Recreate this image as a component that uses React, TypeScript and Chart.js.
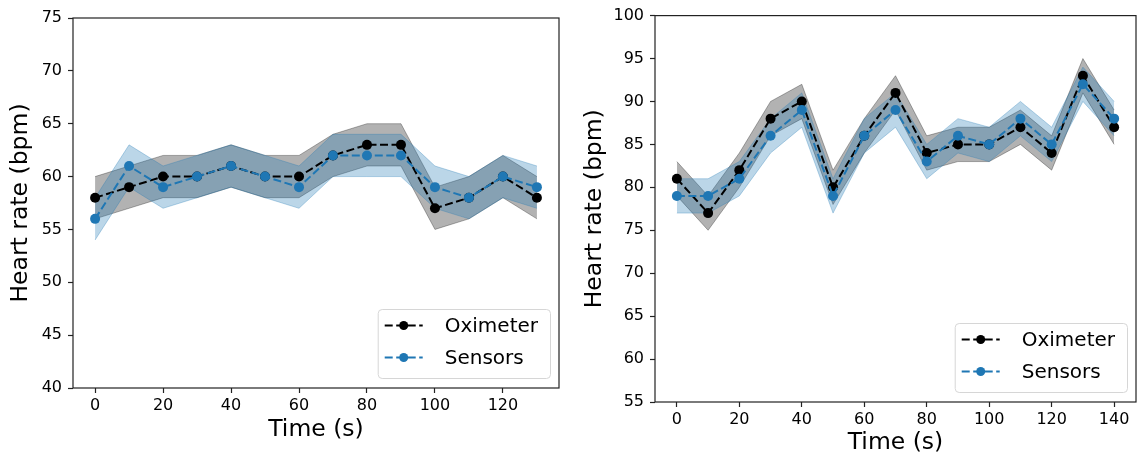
import React, { useEffect, useRef } from 'react';
import { Chart, registerables } from 'chart.js';

Chart.register(...registerables);

const FONT = '"DejaVu Sans", sans-serif';
const BLACK = '#000000';
const BLUE = '#1f77b4';
const GRAY_FILL = 'rgba(0,0,0,0.3)';
const BLUE_FILL = 'rgba(31,119,180,0.3)';

// ---------- Left panel data ----------
const timeLeft = [0, 10, 20, 30, 40, 50, 60, 70, 80, 90, 100, 110, 120, 130];
const oximeterLeft = [58, 59, 60, 60, 61, 60, 60, 62, 63, 63, 57, 58, 60, 58];
const oximeterLeftLow = [56, 57, 58, 58, 59, 58, 58, 60, 61, 61, 55, 56, 58, 56];
const oximeterLeftHigh = [60, 61, 62, 62, 63, 62, 62, 64, 65, 65, 59, 60, 62, 60];
const sensorsLeft = [56, 61, 59, 60, 61, 60, 59, 62, 62, 62, 59, 58, 60, 59];
const sensorsLeftLow = [54, 59, 57, 58, 59, 58, 57, 60, 60, 60, 57, 56, 58, 57];
const sensorsLeftHigh = [58, 63, 61, 62, 63, 62, 61, 64, 64, 64, 61, 60, 62, 61];
const xTicksLeft = [0, 20, 40, 60, 80, 100, 120];
const yTicksLeft = [40, 45, 50, 55, 60, 65, 70, 75];

// ---------- Right panel data ----------
const timeRight = [0, 10, 20, 30, 40, 50, 60, 70, 80, 90, 100, 110, 120, 130, 140];
const oximeterRight = [81, 77, 82, 88, 90, 80, 86, 91, 84, 85, 85, 87, 84, 93, 87];
const oximeterRightLow = [79, 75, 80, 86, 88, 78, 84, 89, 82, 83, 83, 85, 82, 91, 85];
const oximeterRightHigh = [83, 79, 84, 90, 92, 82, 88, 93, 86, 87, 87, 89, 86, 95, 89];
const sensorsRight = [79, 79, 81, 86, 89, 79, 86, 89, 83, 86, 85, 88, 85, 92, 88];
const sensorsRightLow = [77, 77, 79, 84, 87, 77, 84, 87, 81, 84, 83, 86, 83, 90, 86];
const sensorsRightHigh = [81, 81, 83, 88, 91, 81, 88, 91, 85, 88, 87, 90, 87, 94, 90];
const xTicksRight = [0, 20, 40, 60, 80, 100, 120, 140];
const yTicksRight = [55, 60, 65, 70, 75, 80, 85, 90, 95, 100];

const LABEL_OXI = 'Oximeter';
const LABEL_SEN = 'Sensors';
const X_TITLE = 'Time (s)';
const Y_TITLE = 'Heart rate (bpm)';

const toPoints = (xs: number[], ys: number[]) => xs.map((x, i) => ({ x, y: ys[i] }));

const framePlugin = {
  id: 'frame',
  afterDatasetsDraw(chart: any) {
    const { ctx, chartArea } = chart;
    ctx.save();
    ctx.strokeStyle = '#222';
    ctx.lineWidth = 1.2;
    ctx.strokeRect(chartArea.left, chartArea.top, chartArea.right - chartArea.left, chartArea.bottom - chartArea.top);
    ctx.restore();
  },
};

const boxLegendPlugin = {
  id: 'boxLegend',
  afterDraw(chart: any) {
    const { ctx, chartArea } = chart;
    const entries = chart.data.datasets
      .filter((d: any) => d.label)
      .map((d: any) => ({ label: d.label, color: d.borderColor }));
    ctx.save();
    ctx.font = `20px ${FONT}`;
    const textW = Math.max(...entries.map((e: any) => ctx.measureText(e.label).width));
    const w = 67 + textW + 12;
    const h = 69;
    const right = chartArea.right - 9;
    const bottom = chartArea.bottom - 10;
    const left = right - w;
    const top = bottom - h;
    ctx.beginPath();
    ctx.roundRect(left + 0.5, top + 0.5, w, h, 4);
    ctx.fillStyle = 'rgba(255,255,255,0.8)';
    ctx.fill();
    ctx.strokeStyle = '#d6d6d6';
    ctx.lineWidth = 1;
    ctx.stroke();
    entries.forEach((e: any, i: number) => {
      const y = top + 16.5 + i * 32;
      ctx.setLineDash([8, 3.5]);
      ctx.strokeStyle = e.color;
      ctx.lineWidth = 2;
      ctx.beginPath();
      ctx.moveTo(left + 7, y);
      ctx.lineTo(left + 45, y);
      ctx.stroke();
      ctx.setLineDash([]);
      ctx.fillStyle = e.color;
      ctx.beginPath();
      ctx.arc(left + 26, y, 4.5, 0, Math.PI * 2);
      ctx.fill();
      ctx.fillStyle = '#000';
      ctx.textBaseline = 'middle';
      ctx.textAlign = 'left';
      ctx.fillText(e.label, left + 67, y + 1);
    });
    ctx.restore();
  },
};

interface PanelProps {
  left: number;
  width: number;
  times: number[];
  oxi: number[];
  oxiLow: number[];
  oxiHigh: number[];
  sen: number[];
  senLow: number[];
  senHigh: number[];
  xMin: number;
  xMax: number;
  yMin: number;
  yMax: number;
  xTicks: number[];
  yTicks: number[];
  yAxisWidth: number;
  xAxisHeight: number;
  padTop: number;
  padRight: number;
  yTitlePad: number;
  xTitlePad: number;
}

const HEIGHT = 459;

function Panel(p: PanelProps) {
  const ref = useRef<HTMLCanvasElement>(null);
  useEffect(() => {
    if (!ref.current) return;
    const band = (vals: number[], fillColor: string, fill: any, order: number) => ({
      data: toPoints(p.times, vals),
      borderColor: fillColor,
      backgroundColor: fillColor,
      borderWidth: 1,
      pointRadius: 0,
      pointHoverRadius: 0,
      fill,
      order,
      tension: 0,
    });
    const line = (label: string, vals: number[], color: string, order: number) => ({
      label,
      data: toPoints(p.times, vals),
      borderColor: color,
      backgroundColor: color,
      borderWidth: 2,
      borderDash: [8, 3.5],
      pointRadius: 5,
      pointHoverRadius: 5,
      pointBorderWidth: 0,
      pointBackgroundColor: color,
      fill: false,
      order,
      tension: 0,
    });
    const tickFont = { family: FONT, size: 16 };
    const titleFont = { family: FONT, size: 23.5 };
    const chart = new Chart(ref.current, {
      type: 'line',
      data: {
        datasets: [
          band(p.oxiLow, GRAY_FILL, false, 4),
          band(p.oxiHigh, GRAY_FILL, '-1', 4),
          band(p.senLow, BLUE_FILL, false, 3),
          band(p.senHigh, BLUE_FILL, '-1', 3),
          line(LABEL_OXI, p.oxi, BLACK, 2),
          line(LABEL_SEN, p.sen, BLUE, 1),
        ] as any,
      },
      options: {
        animation: false,
        responsive: false,
        devicePixelRatio: 1,
        layout: { padding: { top: p.padTop, right: p.padRight, left: 0, bottom: 0 } },
        plugins: {
          legend: { display: false },
          tooltip: { enabled: false },
        },
        scales: {
          x: {
            type: 'linear',
            min: p.xMin,
            max: p.xMax,
            afterBuildTicks: (scale: any) => {
              scale.ticks = p.xTicks.map((v) => ({ value: v }));
            },
            afterFit: (scale: any) => {
              scale.height = p.xAxisHeight;
            },
            grid: {
              display: true,
              drawOnChartArea: false,
              drawTicks: true,
              tickLength: 5,
              tickColor: '#222',
              tickWidth: 1.2,
            },
            border: { display: false },
            ticks: {
              font: tickFont,
              color: '#000',
              padding: 3,
              maxRotation: 0,
              autoSkip: false,
              callback: (v: any) => String(v),
            },
            title: {
              display: true,
              text: X_TITLE,
              font: titleFont,
              color: '#000',
              padding: { top: 0, bottom: p.xTitlePad },
            },
          },
          y: {
            type: 'linear',
            min: p.yMin,
            max: p.yMax,
            afterBuildTicks: (scale: any) => {
              scale.ticks = p.yTicks.map((v) => ({ value: v }));
            },
            afterFit: (scale: any) => {
              scale.width = p.yAxisWidth;
            },
            grid: {
              display: true,
              drawOnChartArea: false,
              drawTicks: true,
              tickLength: 5,
              tickColor: '#222',
              tickWidth: 1.2,
            },
            border: { display: false },
            ticks: {
              font: tickFont,
              color: '#000',
              padding: 6,
              autoSkip: false,
              callback: (v: any) => String(v),
            },
            title: {
              display: true,
              text: Y_TITLE,
              font: titleFont,
              color: '#000',
              padding: { top: p.yTitlePad, bottom: 0 },
            },
          },
        },
      } as any,
      plugins: [framePlugin, boxLegendPlugin],
    });
    return () => chart.destroy();
  }, []);
  return (
    <canvas
      ref={ref}
      width={p.width}
      height={HEIGHT}
      style={{ position: 'absolute', left: p.left, top: 0, width: p.width, height: HEIGHT }}
    />
  );
}

export default function App() {
  return (
    <div style={{ position: 'fixed', left: 0, top: 0, width: 1141, height: HEIGHT, background: '#fff' }}>
      <Panel
        left={0}
        width={570}
        times={timeLeft}
        oxi={oximeterLeft}
        oxiLow={oximeterLeftLow}
        oxiHigh={oximeterLeftHigh}
        sen={sensorsLeft}
        senLow={sensorsLeftLow}
        senHigh={sensorsLeftHigh}
        xMin={-6.5}
        xMax={136.5}
        yMin={40}
        yMax={75}
        xTicks={xTicksLeft}
        yTicks={yTicksLeft}
        yAxisWidth={73}
        xAxisHeight={71}
        padTop={18}
        padRight={11}
        yTitlePad={7}
        xTitlePad={15}
      />
      <Panel
        left={580}
        width={561}
        times={timeRight}
        oxi={oximeterRight}
        oxiLow={oximeterRightLow}
        oxiHigh={oximeterRightHigh}
        sen={sensorsRight}
        senLow={sensorsRightLow}
        senHigh={sensorsRightHigh}
        xMin={-7}
        xMax={147}
        yMin={55}
        yMax={100}
        xTicks={xTicksRight}
        yTicks={yTicksRight}
        yAxisWidth={75}
        xAxisHeight={57}
        padTop={14}
        padRight={0}
        yTitlePad={1}
        xTitlePad={2}
      />
    </div>
  );
}
